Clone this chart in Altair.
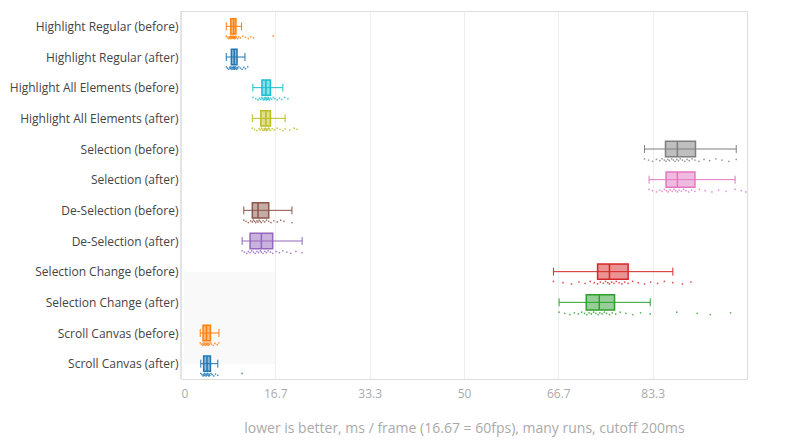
import altair as alt
import pandas as pd

categories = [
    "Highlight Regular (before)", "Highlight Regular (after)",
    "Highlight All Elements (before)", "Highlight All Elements (after)",
    "Selection (before)", "Selection (after)",
    "De-Selection (before)", "De-Selection (after)",
    "Selection Change (before)", "Selection Change (after)",
    "Scroll Canvas (before)", "Scroll Canvas (after)",
]
colors = ["#ff7f0e", "#1f77b4", "#17becf", "#bcbd22", "#7f7f7f", "#e377c2",
          "#8c564b", "#9467bd", "#d62728", "#2ca02c", "#ff7f0e", "#1f77b4"]

# box statistics (ms / frame)
whisker_low = [8.0, 8.0, 12.7, 12.6, 81.9, 82.7, 11.1, 10.8, 65.8, 66.8, 3.4, 3.5]
q1 = [8.8, 8.9, 14.3, 14.1, 85.6, 85.7, 12.6, 12.2, 73.6, 71.6, 3.9, 4.0]
median = [9.3, 9.4, 15.0, 15.0, 87.7, 87.7, 13.6, 14.2, 75.7, 73.9, 4.5, 4.6]
q3 = [9.7, 9.9, 15.8, 15.8, 90.9, 90.8, 15.5, 16.2, 79.0, 76.6, 5.2, 5.2]
whisker_high = [10.7, 11.3, 18.0, 18.4, 98.1, 97.9, 19.6, 21.4, 86.9, 82.9, 6.7, 6.5]

# individual runs (sampled)
runs = [
    [8.0, 8.2, 8.4, 8.5, 8.6, 8.7, 8.8, 8.8, 8.9, 9.0, 9.0, 9.1, 9.2, 9.2, 9.3, 9.3, 9.4, 9.5, 9.5, 9.6, 9.7, 9.8, 10.0, 10.2, 10.5, 10.9, 11.4, 11.9, 12.3, 12.8, 16.3],
    [8.0, 8.2, 8.4, 8.6, 8.7, 8.8, 8.9, 9.0, 9.1, 9.2, 9.3, 9.3, 9.4, 9.4, 9.5, 9.6, 9.7, 9.8, 9.9, 10.0, 10.2, 10.5, 10.8, 11.1, 11.4, 11.8],
    [12.7, 13.2, 13.6, 13.9, 14.1, 14.3, 14.4, 14.6, 14.7, 14.8, 14.9, 15.0, 15.1, 15.2, 15.3, 15.4, 15.5, 15.6, 15.8, 16.0, 16.3, 16.6, 17.0, 17.4, 17.8, 18.3, 18.9],
    [12.6, 13.0, 13.4, 13.8, 14.0, 14.2, 14.4, 14.5, 14.7, 14.8, 14.9, 15.0, 15.1, 15.2, 15.3, 15.5, 15.6, 15.8, 16.1, 16.5, 17.0, 17.5, 18.0, 18.4, 19.2, 20.0, 20.5],
    [81.9, 82.6, 83.3, 84.0, 84.6, 85.0, 85.4, 85.7, 86.0, 86.3, 86.7, 87.0, 87.3, 87.6, 87.9, 88.2, 88.6, 89.0, 89.4, 89.8, 90.3, 90.8, 91.5, 92.4, 93.4, 94.5, 95.6, 96.8, 98.1],
    [82.7, 83.3, 84.0, 84.6, 85.0, 85.4, 85.8, 86.1, 86.4, 86.8, 87.1, 87.4, 87.7, 88.0, 88.4, 88.8, 89.2, 89.7, 90.2, 90.8, 91.6, 92.6, 93.8, 95.0, 96.3, 97.9, 99.0, 99.8],
    [11.1, 11.5, 11.9, 12.3, 12.6, 12.8, 13.0, 13.2, 13.4, 13.6, 13.8, 14.0, 14.2, 14.5, 14.8, 15.1, 15.5, 15.9, 16.4, 17.0, 17.6, 18.2, 19.6],
    [10.8, 11.2, 11.6, 11.9, 12.2, 12.5, 12.8, 13.1, 13.4, 13.7, 14.0, 14.2, 14.5, 14.8, 15.1, 15.4, 15.8, 16.2, 16.8, 17.4, 18.0, 18.7, 19.4, 20.3, 21.4],
    [65.8, 67.5, 69.0, 70.3, 71.4, 72.3, 73.0, 73.6, 74.1, 74.6, 75.0, 75.4, 75.7, 76.1, 76.5, 76.9, 77.4, 77.9, 78.4, 79.0, 79.8, 80.8, 81.9, 83.0, 84.2, 85.4, 86.9, 88.6, 90.1],
    [66.8, 67.8, 68.7, 69.5, 70.2, 70.8, 71.3, 71.7, 72.1, 72.5, 72.9, 73.3, 73.7, 74.0, 74.4, 74.8, 75.2, 75.7, 76.2, 76.8, 77.6, 78.6, 79.8, 81.2, 82.9, 87.6, 91.2, 93.5, 97.1],
    [3.4, 3.6, 3.8, 3.9, 4.0, 4.1, 4.2, 4.3, 4.4, 4.5, 4.6, 4.7, 4.8, 4.9, 5.0, 5.2, 5.4, 5.7, 6.0, 6.4, 6.7],
    [3.5, 3.7, 3.9, 4.0, 4.1, 4.2, 4.3, 4.4, 4.5, 4.6, 4.7, 4.8, 4.9, 5.0, 5.1, 5.3, 5.5, 5.8, 6.1, 6.5, 10.8],
]

tick_values = [0, 50 / 3, 100 / 3, 50, 200 / 3, 250 / 3]
shade_x = [0.5, 50 / 3]
shade_rows = [8, 11]

boxes = pd.DataFrame({
    "cat": categories, "idx": list(range(len(categories))),
    "lo": whisker_low, "q1": q1, "med": median, "q3": q3, "hi": whisker_high,
})
pts = pd.DataFrame([
    {"cat": c, "idx": i, "v": v, "k": k}
    for i, (c, vals) in enumerate(zip(categories, runs))
    for k, v in enumerate(vals)
])

label_expr = "[" + ",".join("'" + c + "'" for c in categories) + "][datum.value]"

xscale = alt.Scale(domain=[0, 100], nice=False, zero=False)
yscale = alt.Scale(domain=[-0.5, len(categories) - 0.5], reverse=True, nice=False, zero=False)
color = alt.Color("cat:N", scale=alt.Scale(domain=categories, range=colors), legend=None)

xaxis = alt.Axis(values=tick_values, format=".3~r", grid=True, gridColor="#eeeeee",
                 domain=False, ticks=False, labelColor="#aaaaaa", labelFontSize=12,
                 labelPadding=9, title="lower is better, ms / frame (16.67 = 60fps), many runs, cutoff 200ms",
                 titleColor="#aaaaaa", titleFontSize=14, titleFontWeight="normal", titlePadding=22)
yaxis = alt.Axis(values=list(range(len(categories))), labelExpr=label_expr, grid=False,
                 domain=False, ticks=False, labelColor="#444444", labelFontSize=12,
                 labelPadding=3, labelOverlap=False, title=None)


def X(field):
    return alt.X(field, scale=xscale, axis=xaxis)


def Y(field):
    return alt.Y(field, scale=yscale, axis=yaxis)


base_box = alt.Chart(boxes)

shade = alt.Chart(pd.DataFrame({"x": [shade_x[0]], "x2": [shade_x[1]],
                                "y": [shade_rows[0]], "y2": [shade_rows[1]]})).mark_rect(
    color="#f9f9f9").encode(x=X("x:Q"), x2="x2:Q", y=Y("y:Q"), y2="y2:Q")

zero = alt.Chart(pd.DataFrame({"x": [0]})).mark_rule(color="#e4e4e4", strokeWidth=2).encode(
    x=X("x:Q"))

whisk = base_box.mark_rule(strokeWidth=1).encode(
    x=X("lo:Q"), x2="hi:Q", y=Y("idx:Q"), color=color)

caps_lo = base_box.transform_calculate(a="datum.idx - 0.13", b="datum.idx + 0.13").mark_rule(
    strokeWidth=1).encode(x=X("lo:Q"), y=Y("a:Q"), y2="b:Q", color=color)
caps_hi = base_box.transform_calculate(a="datum.idx - 0.13", b="datum.idx + 0.13").mark_rule(
    strokeWidth=1).encode(x=X("hi:Q"), y=Y("a:Q"), y2="b:Q", color=color)

box = base_box.transform_calculate(a="datum.idx - 0.25", b="datum.idx + 0.25").mark_rect(
    fillOpacity=0.5, strokeWidth=1.5).encode(
    x=X("q1:Q"), x2="q3:Q", y=Y("a:Q"), y2="b:Q",
    fill=color, stroke=alt.Stroke("cat:N", scale=alt.Scale(domain=categories, range=colors), legend=None))

med = base_box.transform_calculate(a="datum.idx - 0.25", b="datum.idx + 0.25").mark_rule(
    strokeWidth=1.5).encode(x=X("med:Q"), y=Y("a:Q"), y2="b:Q", color=color)

points = alt.Chart(pts).transform_calculate(
    py="datum.idx + 0.36 + ((datum.k * 7) % 5 - 2) * 0.02").mark_circle(size=3, opacity=0.8).encode(
    x=X("v:Q"), y=Y("py:Q"), color=color)

chart = alt.layer(shade, zero, whisk, caps_lo, caps_hi, box, med, points).properties(
    width=566, height=368, padding={"left": 1, "top": 2, "right": 5, "bottom": 5}
).configure_view(stroke=None).configure(font="Open Sans")

chart.save("out.html", embed_options={"renderer": "svg", "actions": False})
